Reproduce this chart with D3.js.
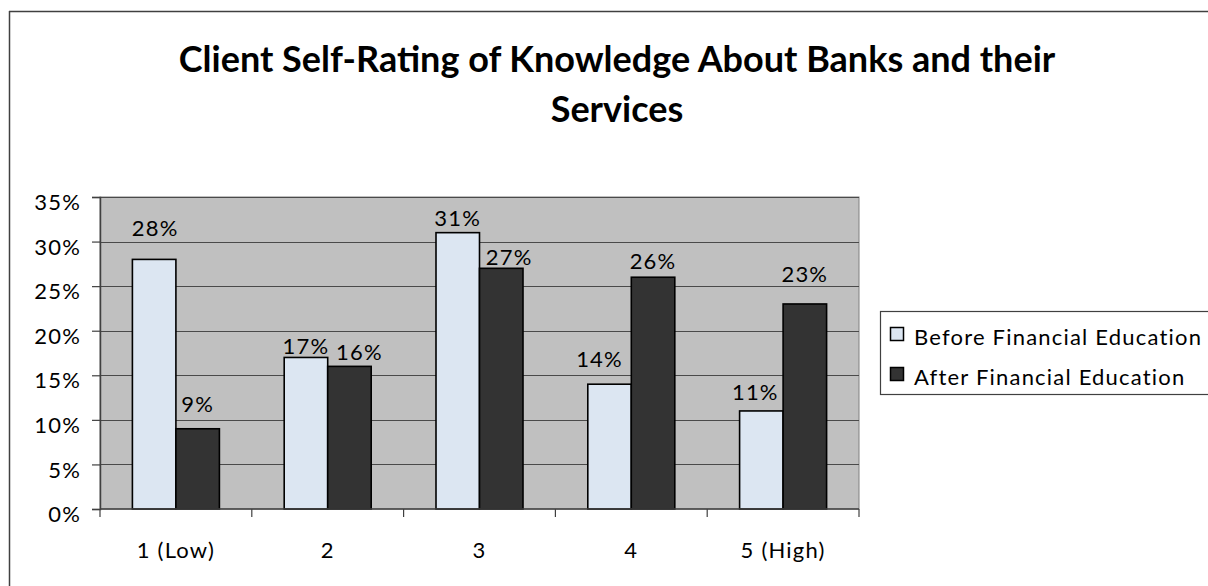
<!DOCTYPE html>
<html>
<head>
<meta charset="utf-8">
<script src="https://cdn.jsdelivr.net/npm/d3@7"></script>
<style>
  html, body { margin: 0; padding: 0; background: #fff; }
  svg { display: block; }
  text { font-family: Lato, "Open Sans", sans-serif; fill: #000; }
  .small { font-size: 22px; letter-spacing: 1.2px; }
</style>
</head>
<body>
<svg id="chart" width="1208" height="586"></svg>
<script>
// Knowledge rating categories and the share of clients in each
const categories = ["1 (Low)", "2", "3", "4", "5 (High)"];
const seriesNames = ["Before Financial Education", "After Financial Education"];
const beforeValues = [28, 17, 31, 14, 11];
const afterValues = [9, 16, 27, 26, 23];
const yTicks = [0, 5, 10, 15, 20, 25, 30, 35];

// Hand placement of the value labels: [dx, gap above bar top]
const beforeLabelNudge = [[1, 23], [0, 3], [0, 7], [-10, 17], [-6, 11]];
const afterLabelNudge = [[0, 17], [10, 6], [8, 3], [0, 8], [0, 22]];

const colors = ["#dce6f2", "#333333"];

const svg = d3.select("#chart");
const plot = { left: 100, right: 859, top: 197, bottom: 509 };

// Outer chart frame
svg.append("line").attr("x1", 9.5).attr("x2", 9.5).attr("y1", 11).attr("y2", 586)
  .attr("stroke", "#404040").attr("stroke-width", 1.5);
svg.append("line").attr("x1", 9).attr("x2", 1208).attr("y1", 11.5).attr("y2", 11.5)
  .attr("stroke", "#404040").attr("stroke-width", 1.5);

// Title
const title = svg.append("text")
  .attr("text-anchor", "middle")
  .style("font-weight", "700")
  .style("font-size", "36px");
title.append("tspan").attr("x", 617).attr("y", 72).text("Client Self-Rating of Knowledge About Banks and their");
title.append("tspan").attr("x", 617).attr("y", 122).text("Services");

const x0 = d3.scaleBand().domain(categories).range([plot.left, plot.right]).paddingInner(0).paddingOuter(0);
const barW = 43.5;
const x1 = d3.scaleBand().domain(seriesNames).range([0, barW * 2]);
const y = d3.scaleLinear().domain([0, 35]).range([plot.bottom, plot.top]);

// Plot background
svg.append("rect")
  .attr("x", plot.left).attr("y", plot.top)
  .attr("width", plot.right - plot.left).attr("height", plot.bottom - plot.top)
  .attr("fill", "#c0c0c0").attr("stroke", "#808080").attr("stroke-width", 1);

// Gridlines
svg.append("g").selectAll("line").data(yTicks.filter(t => t > 0)).join("line")
  .attr("x1", plot.left).attr("x2", plot.right)
  .attr("y1", d => Math.round(y(d)) + 0.5).attr("y2", d => Math.round(y(d)) + 0.5)
  .attr("stroke", "#4a4a4a").attr("stroke-width", 1);

// Y axis
const yAxis = svg.append("g")
  .attr("transform", `translate(${plot.left},0)`)
  .call(d3.axisLeft(y).tickValues(yTicks).tickFormat(d => d + "%").tickSize(8).tickPadding(11));
yAxis.select(".domain").attr("stroke", "#404040").attr("stroke-width", 1.5);
yAxis.selectAll(".tick line").attr("stroke", "#404040").attr("stroke-width", 1.2);
yAxis.selectAll(".tick text")
  .attr("class", "small")
  .style("font-family", "Lato, sans-serif")
  .attr("fill", "#000").attr("dy", "0.85em").attr("y", -6);

// Bars
const groups = [beforeValues, afterValues];
groups.forEach((vals, si) => {
  svg.append("g").selectAll("rect").data(vals).join("rect")
    .attr("x", (d, i) => x0(categories[i]) + (x0.bandwidth() - barW * 2) / 2 + x1(seriesNames[si]))
    .attr("y", d => y(d))
    .attr("width", barW)
    .attr("height", d => y(0) - y(d))
    .attr("fill", colors[si])
    .attr("stroke", "#000").attr("stroke-width", 1.6);
});

// X axis
const xAxis = svg.append("g")
  .attr("transform", `translate(0,${plot.bottom})`);
xAxis.append("line").attr("x1", plot.left).attr("x2", plot.right).attr("y1", 0).attr("y2", 0)
  .attr("stroke", "#404040").attr("stroke-width", 1.5);
const boundaries = categories.map(c => x0(c)).concat([plot.right]);
xAxis.selectAll("line.tk").data(boundaries).join("line").attr("class", "tk")
  .attr("x1", d => d).attr("x2", d => d).attr("y1", 0).attr("y2", 8)
  .attr("stroke", "#404040").attr("stroke-width", 1.2);
xAxis.selectAll("text").data(categories).join("text")
  .attr("class", "small")
  .attr("x", d => x0(d) + x0.bandwidth() / 2)
  .attr("y", 49)
  .attr("text-anchor", "middle")
  .text(d => d);

// Value labels
const nudges = [beforeLabelNudge, afterLabelNudge];
groups.forEach((vals, si) => {
  svg.append("g").selectAll("text").data(vals).join("text")
    .attr("class", "small")
    .attr("x", (d, i) => x0(categories[i]) + (x0.bandwidth() - barW * 2) / 2 + x1(seriesNames[si]) + barW / 2 + nudges[si][i][0])
    .attr("y", (d, i) => y(d) - nudges[si][i][1])
    .attr("text-anchor", "middle")
    .text(d => d + "%");
});

// Legend
const legend = svg.append("g");
legend.append("rect")
  .attr("x", 880.5).attr("y", 311.5).attr("width", 400).attr("height", 83)
  .attr("fill", "#fff").attr("stroke", "#404040").attr("stroke-width", 1.2);
const legendRows = [345, 385];
seriesNames.forEach((name, i) => {
  legend.append("rect")
    .attr("x", 890.5).attr("y", legendRows[i] - 17.5).attr("width", 13).attr("height", 13)
    .attr("fill", colors[i]).attr("stroke", "#000").attr("stroke-width", 1.5);
  legend.append("text")
    .attr("class", "small")
    .attr("x", 914).attr("y", legendRows[i])
    .text(name);
});
</script>
</body>
</html>
